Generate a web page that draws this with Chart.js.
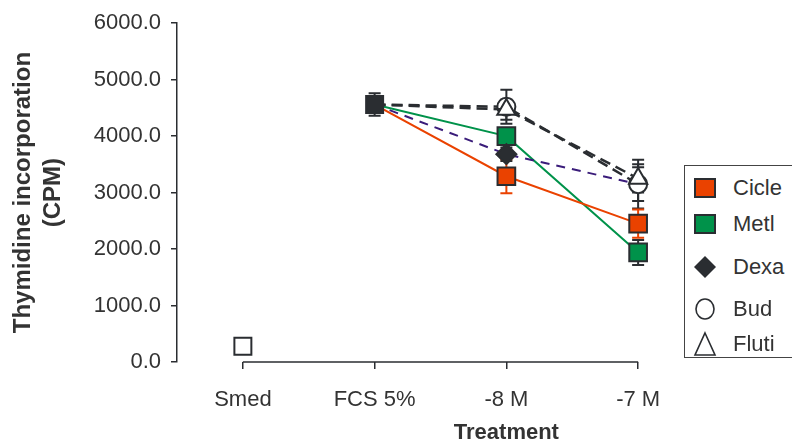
<!DOCTYPE html>
<html>
<head>
<meta charset="utf-8">
<script src="https://cdn.jsdelivr.net/npm/chart.js@4.4.1/dist/chart.umd.min.js"></script>
<style>
    html, body { margin: 0; padding: 0; background: #fff; }
    #wrap { position: relative; width: 792px; height: 443px; overflow: hidden; }
    #legend {
        position: absolute; left: 684px; top: 165px; width: 140px; height: 193px;
        border: 1px solid #444; box-sizing: border-box; background: #fff;
        font: 22px "Liberation Sans", Arial, sans-serif; color: #333;
    }
    #legend .item { position: absolute; left: 0; display: flex; align-items: center; height: 30px; }
    #legend svg { width: 40px; height: 30px; display: block; }
    #legend span { margin-left: 8px; }
</style>
</head>
<body>
<div id="wrap">
    <canvas id="chart" width="792" height="443"></canvas>
    <div id="legend"></div>
</div>
<script>
// ── Data ─────────────────────────────────────────────────────────────────────

const categories = ['Smed', 'FCS 5%', '-8 M', '-7 M'];
const yTicks     = [0, 1000, 2000, 3000, 4000, 5000, 6000];

const controls    = [280, 4560, null, null];
const controlsErr = [0, 200, 0, 0];

const cicle    = [null, 4560, 3290, 2450];
const cicleErr = [0, 0, 300, 250];
const metl     = [null, 4560, 4000, 1940];
const metlErr  = [0, 0, 120, 220];
const dexa     = [null, 4560, 3680, 3150];
const dexaErr  = [0, 0, 120, 300];
const bud      = [null, 4560, 4520, 3150];
const budErr   = [0, 0, 300, 430];
const fluti    = [null, 4560, 4470, 3250];
const flutiErr = [0, 0, 180, 250];

const seriesNames = ['Cicle', 'Metl', 'Dexa', 'Bud', 'Fluti'];

// ── Styles ───────────────────────────────────────────────────────────────────

const FONT = '"Liberation Sans", Arial, sans-serif';
const INK = '#2a2d31';
const TEXT = '#333';
const ORANGE = '#ea4200';
const GREEN = '#00924a';
const PURPLE = '#3a1c7a';

function series(label, data, err, opts) {
    return Object.assign({
        label, data, err,
        borderWidth: 2,
        pointBorderColor: INK,
        pointBorderWidth: 2,
        spanGaps: false,
        tension: 0
    }, opts);
}

const datasets = [
    series('Controls', controls, controlsErr, {
        order: 0, showLine: false, errColor: INK,
        pointStyle: 'rect', pointRadius: 12,
        pointBackgroundColor: ['#fff', INK, INK, INK],
        borderColor: INK
    }),
    series('Fluti', fluti, flutiErr, {
        order: 1, errColor: INK, borderColor: INK, borderWidth: 2.5, borderDash: [11, 6],
        pointStyle: 'triangle', pointRadius: [0, 0, 10.5, 10.5], pointBackgroundColor: '#fff'
    }),
    series('Bud', bud, budErr, {
        order: 2, errColor: INK, borderColor: INK, borderWidth: 2.5, borderDash: [11, 6],
        pointStyle: 'circle', pointRadius: [0, 0, 9, 9], pointBackgroundColor: '#fff'
    }),
    series('Dexa', dexa, dexaErr, {
        order: 3, errColor: INK, borderColor: PURPLE, borderDash: [9, 7],
        pointStyle: 'rectRot', pointRadius: [0, 0, 10, 8], pointBackgroundColor: INK
    }),
    series('Cicle', cicle, cicleErr, {
        order: 4, errColor: ORANGE, borderColor: ORANGE,
        pointStyle: 'rect', pointRadius: [0, 0, 12.5, 12.5], pointBackgroundColor: ORANGE
    }),
    series('Metl', metl, metlErr, {
        order: 5, errColor: INK, borderColor: GREEN,
        pointStyle: 'rect', pointRadius: [0, 0, 12.5, 12.5], pointBackgroundColor: GREEN
    })
];

// ── Plugins ──────────────────────────────────────────────────────────────────

// Vertical error bars with caps, under the markers
const errorBars = {
    id: 'errorBars',
    beforeDatasetsDraw(chart) {
        const { ctx } = chart;
        const y = chart.scales.y;
        chart.data.datasets.forEach((ds, di) => {
            const meta = chart.getDatasetMeta(di);
            ds.data.forEach((v, i) => {
                const e = ds.err[i];
                if (v == null || !e) return;
                const x = meta.data[i].x;
                const top = y.getPixelForValue(v + e);
                const bot = y.getPixelForValue(v - e);
                ctx.save();
                ctx.strokeStyle = ds.errColor;
                ctx.lineWidth = 2;
                ctx.beginPath();
                ctx.moveTo(x, top); ctx.lineTo(x, bot);
                ctx.moveTo(x - 6, top); ctx.lineTo(x + 6, top);
                ctx.moveTo(x - 6, bot); ctx.lineTo(x + 6, bot);
                ctx.stroke();
                ctx.restore();
            });
        });
    }
};

// X axis line only spans first..last category; title sits under "-8 M"
const xAxisDecor = {
    id: 'xAxisDecor',
    afterDraw(chart) {
        const { ctx, chartArea } = chart;
        const x = chart.scales.x;
        const x0 = x.getPixelForValue(0);
        const x1 = x.getPixelForValue(categories.length - 1);
        ctx.save();
        ctx.strokeStyle = INK;
        ctx.lineWidth = 1.5;
        ctx.beginPath();
        ctx.moveTo(x0, chartArea.bottom);
        ctx.lineTo(x1, chartArea.bottom);
        ctx.stroke();
        ctx.fillStyle = TEXT;
        ctx.font = 'bold 22px ' + FONT;
        ctx.textAlign = 'center';
        ctx.textBaseline = 'middle';
        ctx.fillText('Treatment', x.getPixelForValue(2), chart.height - 10);
        ctx.restore();
    }
};

// ── Chart ────────────────────────────────────────────────────────────────────

new Chart(document.getElementById('chart').getContext('2d'), {
    type: 'line',
    data: { labels: categories, datasets },
    plugins: [errorBars, xAxisDecor],
    options: {
        responsive: false,
        animation: false,
        layout: { padding: { top: 21, right: 88, left: 0, bottom: 0 } },
        plugins: { legend: { display: false }, tooltip: { enabled: false } },
        scales: {
            x: {
                offset: true,
                afterFit: s => { s.height = 81; },
                border: { display: false },
                grid: { drawOnChartArea: false, color: INK, lineWidth: 1.5, tickLength: 7, offset: false },
                ticks: { color: TEXT, padding: 18, font: { family: FONT, size: 22 } }
            },
            y: {
                min: 0, max: 6000,
                afterFit: s => { s.width = 177; },
                afterBuildTicks: s => { s.ticks = yTicks.map(v => ({ value: v })); },
                border: { display: true, color: INK, width: 1.5 },
                grid: { drawOnChartArea: false, color: INK, lineWidth: 1.5, tickLength: 6 },
                ticks: {
                    color: TEXT, padding: 10,
                    font: { family: FONT, size: 22 },
                    callback: v => v.toFixed(1)
                },
                title: {
                    display: true,
                    text: ['Thymidine incorporation', '(CPM)'],
                    color: TEXT,
                    padding: { top: 8, bottom: 0 },
                    font: { family: FONT, size: 24, weight: 'bold', lineHeight: 1.25 }
                }
            }
        }
    }
});

// ── HTML legend ──────────────────────────────────────────────────────────────

const legendMarks = {
    Cicle: `<rect x="10" y="6" width="20" height="18" fill="${ORANGE}" stroke="${INK}" stroke-width="2"/>`,
    Metl:  `<rect x="10" y="6" width="20" height="18" fill="${GREEN}" stroke="${INK}" stroke-width="2"/>`,
    Dexa:  `<polygon points="20,4 31,15 20,26 9,15" fill="${INK}"/>`,
    Bud:   `<ellipse cx="20" cy="15" rx="9" ry="10" fill="#fff" stroke="${INK}" stroke-width="1.6"/>`,
    Fluti: `<polygon points="20,4 30,26 10,26" fill="#fff" stroke="${INK}" stroke-width="1.6"/>`
};
const legendTops = [7, 43, 86, 128, 163];

const legendEl = document.getElementById('legend');
seriesNames.forEach((name, i) => {
    const item = document.createElement('div');
    item.className = 'item';
    item.style.top = legendTops[i] + 'px';
    item.innerHTML = `<svg viewBox="0 0 40 30">${legendMarks[name]}</svg><span>${name}</span>`;
    legendEl.appendChild(item);
});
</script>
</body>
</html>
